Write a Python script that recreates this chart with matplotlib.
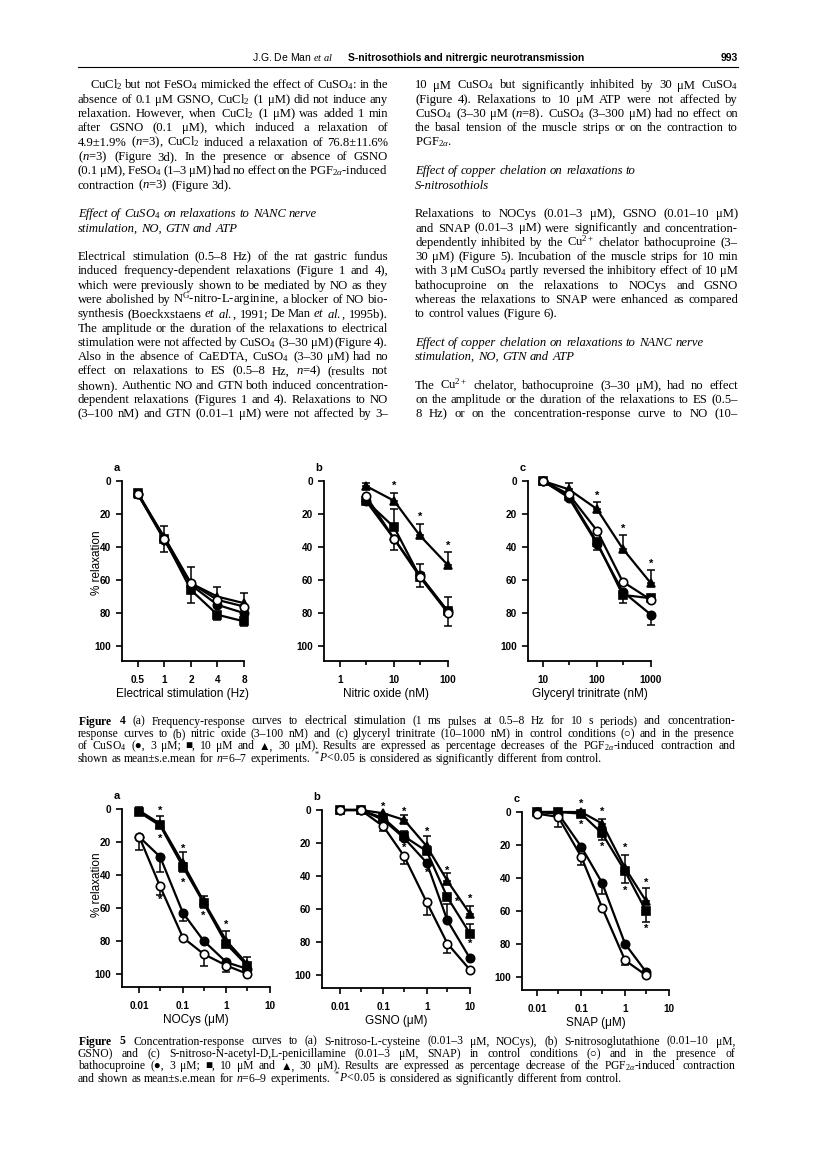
"""Journal page p.993 (De Man et al): two columns of text, Figure 4 and Figure 5."""
import matplotlib
matplotlib.use("Agg")
import matplotlib.font_manager as fm
import matplotlib.pyplot as plt

W, H = 816, 1157
SERIF = "Liberation Serif"
_names = {f.name for f in fm.fontManager.ttflist}
NARROW = "Liberation Sans Narrow" if "Liberation Sans Narrow" in _names else "Liberation Sans"
SANS = "Liberation Sans"

plt.rcParams["mathtext.fontset"] = "custom"
plt.rcParams["mathtext.rm"] = SERIF
plt.rcParams["mathtext.it"] = SERIF + ":italic"
plt.rcParams["mathtext.bf"] = SERIF + ":bold"

# --- Figure 4 data (% relaxation, signed s.e.m.: + drawn downwards, - upwards)
ES_HZ = [0.5, 1, 2, 4, 8]
ES_CTRL = [8, 35, 62, 72, 76]
ES_CU3 = [8, 36, 63, 75, 80]
ES_CU10 = [7, 35, 66, 81, 85]
ES_CU30 = [8, 34, 62, 70, 74]
ES_ERR_CTRL = [0, -8, -10, -8, -8]
ES_ERR_CU10 = [3, 8, 8, 3, 3]

NO_NM = [3, 10, 30, 100]
NO_CTRL = [9, 35, 58, 80]
NO_CU3 = [12, 35, 57, 79]
NO_CU10 = [12, 28, 58, 79]
NO_CU30 = [3, 12, 33, 51]
NO_ERR_CU3 = [0, 7, 7, 9]
NO_ERR_CU10 = [0, -11, -8, -9]
NO_ERR_CU30 = [-2, -5, -7, -8]
NO_STARS = [(10, 3), (30, 22), (100, 39)]

GTN_NM = [10, 30, 100, 300, 1000]
GTN_CTRL = [0, 8, 30, 61, 72]
GTN_CU3 = [0, 10, 38, 67, 81]
GTN_CU10 = [0, 9, 37, 69, 71]
GTN_CU30 = [0, 5, 17, 41, 62]
GTN_ERR_CU3 = [0, 0, 4, 0, 6]
GTN_ERR_CU10 = [0, 0, 0, 5, 0]
GTN_ERR_CU30 = [0, -4, -4, -8, -8]
GTN_STARS = [(100, 9), (300, 29), (1000, 50)]

# --- Figure 5 data (bathocuproine 3/10/30 uM)
NOCYS_UM = [0.01, 0.03, 0.1, 0.3, 1, 3]
NOCYS_CTRL = [17, 47, 78, 88, 95, 100]
NOCYS_B3 = [17, 29, 63, 80, 93, 97]
NOCYS_B10 = [2, 10, 35, 57, 82, 95]
NOCYS_B30 = [1, 9, 33, 56, 80, 94]
NOCYS_ERR_CTRL = [0, 5, 0, 7, 4, 0]
NOCYS_ERR_B3 = [8, 9, 5, 0, 0, 0]
NOCYS_ERR_B10 = [-3, -6, -9, -4, -8, -5]
NOCYS_ERR_B30 = [0, 0, 5, 4, 0, 0]
NOCYS_STARS = [(0.03, 1), (0.03, 18), (0.03, 55), (0.1, 24), (0.1, 45), (0.3, 65), (1, 70)]

GSNO_UM = [0.01, 0.03, 0.1, 0.3, 1, 3, 10]
GSNO_CTRL = [0, 0, 10, 28, 56, 81, 97]
GSNO_B3 = [0, 0, 6, 17, 32, 67, 90]
GSNO_B10 = [0, 0, 5, 16, 25, 53, 75]
GSNO_B30 = [0, 0, 2, 6, 22, 43, 63]
GSNO_ERR_CTRL = [0, 0, 3, 5, 8, 6, 0]
GSNO_ERR_B3 = [0, 0, 0, 0, 0, -10, 0]
GSNO_ERR_B10 = [0, 0, 0, -3, 0, 0, -6]
GSNO_ERR_B30 = [0, 0, 0, -3, -6, -5, -5]
GSNO_STARS = [(0.1, -2), (0.3, 1), (0.3, 23), (1, 13), (1, 38), (3, 37), (5, 56), (10, 54), (10, 81)]

SNAP_UM = [0.01, 0.03, 0.1, 0.3, 1, 3]
SNAP_CTRL = [1, 3, 27, 58, 90, 99]
SNAP_B3 = [0, 1, 21, 43, 80, 97]
SNAP_B10 = [0, 0, 1, 13, 36, 60]
SNAP_B30 = [0, 0, 0, 7, 34, 54]
SNAP_ERR_CTRL = [0, 6, 5, 0, 3, 0]
SNAP_ERR_B3 = [0, 0, 0, 7, 0, 0]
SNAP_ERR_B10 = [0, 0, 0, 4, 7, 7]
SNAP_ERR_B30 = [0, 0, 0, -3, -8, -8]
SNAP_STARS = [(0.1, -5), (0.1, 8), (0.3, 0), (0.3, 21), (1, 22), (1, 48), (3, 43), (3, 71)]

Y_TICKS = [0, 20, 40, 60, 80, 100]

# --- Page text
LEFT_COL = [
    (r"CuCl$_2$ but not FeSO$_4$ mimicked the effect of CuSO$_4$: in the", "i"),
    (r"absence of 0.1 μM GSNO, CuCl$_2$ (1 μM) did not induce any", "j"),
    (r"relaxation. However, when CuCl$_2$ (1 μM) was added 1 min", "j"),
    (r"after GSNO (0.1 μM), which induced a relaxation of", "j"),
    (r"4.9±1.9% ($\mathit{n}$=3), CuCl$_2$ induced a relaxation of 76.8±11.6%", "j"),
    (r"($\mathit{n}$=3) (Figure 3d). In the presence or absence of GSNO", "j"),
    (r"(0.1 μM), FeSO$_4$ (1–3 μM) had no effect on the PGF$_{2\alpha}$-induced", "j"),
    (r"contraction ($\mathit{n}$=3) (Figure 3d).", "l"),
    ("", ""),
    (r"Effect of CuSO$_4$ on relaxations to NANC nerve", "h"),
    ("stimulation, NO, GTN and ATP", "h"),
    ("", ""),
    ("Electrical stimulation (0.5–8 Hz) of the rat gastric fundus", "j"),
    ("induced frequency-dependent relaxations (Figure 1 and 4),", "j"),
    ("which were previously shown to be mediated by NO as they", "j"),
    (r"were abolished by N$^{\mathrm{G}}$-nitro-L-arginine, a blocker of NO bio-", "j"),
    (r"synthesis (Boeckxstaens $\mathit{et}$ $\mathit{al.}$, 1991; De Man $\mathit{et}$ $\mathit{al.}$, 1995b).", "j"),
    ("The amplitude or the duration of the relaxations to electrical", "j"),
    (r"stimulation were not affected by CuSO$_4$ (3–30 μM) (Figure 4).", "j"),
    (r"Also in the absence of CaEDTA, CuSO$_4$ (3–30 μM) had no", "j"),
    (r"effect on relaxations to ES (0.5–8 Hz, $\mathit{n}$=4) (results not", "j"),
    ("shown). Authentic NO and GTN both induced concentration-", "j"),
    ("dependent relaxations (Figures 1 and 4). Relaxations to NO", "j"),
    ("(3–100 nM) and GTN (0.01–1 μM) were not affected by 3–", "j"),
]
RIGHT_COL = [
    (r"10 μM CuSO$_4$ but significantly inhibited by 30 μM CuSO$_4$", "j"),
    ("(Figure 4). Relaxations to 10 μM ATP were not affected by", "j"),
    (r"CuSO$_4$ (3–30 μM ($\mathit{n}$=8). CuSO$_4$ (3–300 μM) had no effect on", "j"),
    ("the basal tension of the muscle strips or on the contraction to", "j"),
    (r"PGF$_{2\alpha}$.", "l"),
    ("", ""),
    ("Effect of copper chelation on relaxations to", "h"),
    ("S-nitrosothiols", "h"),
    ("", ""),
    ("Relaxations to NOCys (0.01–3 μM), GSNO (0.01–10 μM)", "j"),
    ("and SNAP (0.01–3 μM) were significantly and concentration-", "j"),
    (r"dependently inhibited by the Cu$^{2+}$ chelator bathocuproine (3–", "j"),
    ("30 μM) (Figure 5). Incubation of the muscle strips for 10 min", "j"),
    (r"with 3 μM CuSO$_4$ partly reversed the inhibitory effect of 10 μM", "j"),
    ("bathocuproine on the relaxations to NOCys and GSNO", "j"),
    ("whereas the relaxations to SNAP were enhanced as compared", "j"),
    ("to control values (Figure 6).", "l"),
    ("", ""),
    ("Effect of copper chelation on relaxations to NANC nerve", "h"),
    ("stimulation, NO, GTN and ATP", "h"),
    ("", ""),
    (r"The Cu$^{2+}$ chelator, bathocuproine (3–30 μM), had no effect", "j"),
    ("on the amplitude or the duration of the relaxations to ES (0.5–", "j"),
    ("8 Hz) or on the concentration-response curve to NO (10–", "j"),
]
CAPTION_4 = [
    r"$\mathbf{Figure}$ $\mathbf{4}$  (a) Frequency-response curves to electrical stimulation (1 ms pulses at 0.5–8 Hz for 10 s periods) and concentration-",
    "response curves to (b) nitric oxide (3–100 nM) and (c) glyceryl trinitrate (10–1000 nM) in control conditions (○) and in the presence",
    r"of CuSO$_4$ (●, 3 μM; ■, 10 μM and ▲, 30 μM). Results are expressed as percentage decreases of the PGF$_{2\alpha}$-induced contraction and",
    r"shown as mean±s.e.mean for $\mathit{n}$=6–7 experiments. $^*\mathit{P}$<0.05 is considered as significantly different from control.",
]
CAPTION_5 = [
    r"$\mathbf{Figure}$ $\mathbf{5}$  Concentration-response curves to (a) S-nitroso-L-cysteine (0.01–3 μM, NOCys), (b) S-nitrosoglutathione (0.01–10 μM,",
    "GSNO) and (c) S-nitroso-N-acetyl-D,L-penicillamine (0.01–3 μM, SNAP) in control conditions (○) and in the presence of",
    r"bathocuproine (●, 3 μM; ■, 10 μM and ▲, 30 μM). Results are expressed as percentage decrease of the PGF$_{2\alpha}$-induced contraction",
    r"and shown as mean±s.e.mean for $\mathit{n}$=6–9 experiments. $^*\mathit{P}$<0.05 is considered as significantly different from control.",
]

fig = plt.figure(figsize=(W / 100, H / 100), dpi=100)
renderer = fig.canvas.get_renderer()


def set_line(x0, x1, y, line, size, justify=True, style="normal"):
    """Place one typeset line word by word; justified lines fill x0..x1 (pixels)."""
    words = line.split()
    arts = [fig.text(0, 1 - y / H, w, fontsize=size, family=[SERIF, "DejaVu Sans"],
                     style=style, va="baseline") for w in words]
    widths = [a.get_window_extent(renderer).width for a in arts]
    gap = size * 0.26 * 100 / 72
    if justify and len(words) > 1:
        gap = max((x1 - x0 - sum(widths)) / (len(words) - 1), 1.0)
    x = x0
    for a, w in zip(arts, widths):
        a.set_x(x / W)
        x += w + gap


def set_column(x0, x1, lines, y0, step):
    for i, (line, kind) in enumerate(lines):
        if not line:
            continue
        y = y0 + i * step
        if kind == "i":
            set_line(x0 + 12, x1, y, line, 9.1)
        elif kind == "h":
            set_line(x0, x1, y, line, 9.1, justify=False, style="italic")
        else:
            set_line(x0, x1, y, line, 9.1, justify=(kind == "j"))


def set_caption(lines, y0, step):
    for i, line in enumerate(lines):
        set_line(78, 735, y0 + i * step, line, 8.4, justify=i < len(lines) - 1)


# header
fig.text(333 / W, 1 - 61 / H, "J.G. De Man $\\mathit{et\\ al}$", family=NARROW, fontsize=7.5,
         ha="right", va="baseline")
fig.text(348 / W, 1 - 61 / H, "S-nitrosothiols and nitrergic neurotransmission",
         family=NARROW, fontsize=7.5, weight="bold", va="baseline")
fig.text(738 / W, 1 - 61 / H, "993", family=NARROW, fontsize=7.5, weight="bold",
         ha="right", va="baseline")
fig.add_artist(plt.Line2D([78 / W, 738 / W], [1 - 67 / H, 1 - 67 / H], color="black", lw=0.8))

set_column(78, 388, LEFT_COL, 88.5, 14.3)
set_column(415, 738, RIGHT_COL, 88.5, 14.3)
set_caption(CAPTION_4, 724.5, 12.4)
set_caption(CAPTION_5, 1044.5, 12.4)


def panel(left, right, top, bottom, ybot, log_base, xlim, majors, major_labels, minors,
          series, stars, letter, xlabel, ylabel_y=None):
    ax = fig.add_axes([left / W, 1 - bottom / H, (right - left) / W, (bottom - top) / H])
    ax.set_xscale("log", base=log_base)
    ax.set_xlim(*xlim)
    ax.set_ylim(ybot, 0)
    for s in ("top", "right"):
        ax.spines[s].set_visible(False)
    for s in ("left", "bottom"):
        ax.spines[s].set_linewidth(1.3)
    ax.set_xticks(majors, labels=major_labels, fontweight="bold", family=SANS)
    ax.set_xticks(minors, labels=[""] * len(minors), minor=True)
    ax.set_yticks(Y_TICKS, labels=[str(v) for v in Y_TICKS], fontweight="bold", family=SANS)
    ax.tick_params(which="major", direction="out", length=4, width=1.2, labelsize=7.2, pad=4)
    ax.tick_params(which="minor", direction="out", length=3, width=1.2)
    ax.tick_params(axis="x", pad=6)
    ax.patch.set_visible(False)
    for x, y, err, marker, face in series:
        ax.plot(x, y, color="black", lw=1.6, marker=marker, ms=6, mfc=face,
                mec="black", mew=1.2, clip_on=False, zorder=3)
        ex = [xi for xi, e in zip(x, err) if e]
        ey = [yi for yi, e in zip(y, err) if e]
        lo = [-e if e < 0 else 0 for e in err if e]
        hi = [e if e > 0 else 0 for e in err if e]
        if ex:
            ax.errorbar(ex, ey, yerr=[lo, hi], fmt="none", ecolor="black", elinewidth=1.1,
                        capsize=3.2, capthick=1.1, clip_on=False, zorder=2)
    for x, y in stars:
        ax.text(x, y, "*", ha="center", va="center", fontsize=8, family=SANS,
                fontweight="bold", clip_on=False)
    ax.set_xlabel(xlabel, family=SANS, fontsize=8.5, labelpad=2)
    fig.text((left - 5) / W, 1 - (top - 13) / H, letter, family=SANS, fontsize=8,
             fontweight="bold", ha="center", va="center")
    if ylabel_y:
        fig.text(97 / W, 1 - ylabel_y / H, "% relaxation", family=SANS, fontsize=8.5,
                 rotation=90, ha="center", va="center")
    return ax


# Figure 4 -----------------------------------------------------------------
panel(122, 244, 481, 661, 109, 2, (0.33, 8), ES_HZ, ["0.5", "1", "2", "4", "8"], [],
      [(ES_HZ, ES_CU30, [0] * 5, "^", "black"),
       (ES_HZ, ES_CU10, ES_ERR_CU10, "s", "black"),
       (ES_HZ, ES_CU3, [0] * 5, "o", "black"),
       (ES_HZ, ES_CTRL, ES_ERR_CTRL, "o", "white")],
      [], "a", "Electrical stimulation (Hz)", ylabel_y=563)
panel(324, 448, 481, 661, 109, 10, (0.5, 100), [1, 10, 100], ["1", "10", "100"], [3, 30],
      [(NO_NM, NO_CU30, NO_ERR_CU30, "^", "black"),
       (NO_NM, NO_CU10, NO_ERR_CU10, "s", "black"),
       (NO_NM, NO_CU3, NO_ERR_CU3, "o", "black"),
       (NO_NM, NO_CTRL, [0] * 4, "o", "white")],
      NO_STARS, "b", "Nitric oxide (nM)")
panel(528, 651, 481, 661, 109, 10, (5.3, 1000), [10, 100, 1000], ["10", "100", "1000"],
      [30, 300],
      [(GTN_NM, GTN_CU30, GTN_ERR_CU30, "^", "black"),
       (GTN_NM, GTN_CU10, GTN_ERR_CU10, "s", "black"),
       (GTN_NM, GTN_CU3, GTN_ERR_CU3, "o", "black"),
       (GTN_NM, GTN_CTRL, [0] * 5, "o", "white")],
      GTN_STARS, "c", "Glyceryl trinitrate (nM)")

# Figure 5 -----------------------------------------------------------------
DEC = [0.01, 0.1, 1, 10]
DEC_LABELS = ["0.01", "0.1", "1", "10"]
HALF = [0.03, 0.3, 3]
panel(122, 270, 809, 987, 108, 10, (0.004, 10), DEC, DEC_LABELS, HALF,
      [(NOCYS_UM, NOCYS_B30, NOCYS_ERR_B30, "^", "black"),
       (NOCYS_UM, NOCYS_B10, NOCYS_ERR_B10, "s", "black"),
       (NOCYS_UM, NOCYS_B3, NOCYS_ERR_B3, "o", "black"),
       (NOCYS_UM, NOCYS_CTRL, NOCYS_ERR_CTRL, "o", "white")],
      NOCYS_STARS, "a", "NOCys (μM)", ylabel_y=885)
panel(322, 470, 810, 988, 108, 10, (0.0038, 10), DEC, DEC_LABELS, HALF,
      [(GSNO_UM, GSNO_B30, GSNO_ERR_B30, "^", "black"),
       (GSNO_UM, GSNO_B10, GSNO_ERR_B10, "s", "black"),
       (GSNO_UM, GSNO_B3, GSNO_ERR_B3, "o", "black"),
       (GSNO_UM, GSNO_CTRL, GSNO_ERR_CTRL, "o", "white")],
      GSNO_STARS, "b", "GSNO (μM)")
panel(522, 669, 812, 990, 108, 10, (0.0045, 10), DEC, DEC_LABELS, HALF,
      [(SNAP_UM, SNAP_B30, SNAP_ERR_B30, "^", "black"),
       (SNAP_UM, SNAP_B10, SNAP_ERR_B10, "s", "black"),
       (SNAP_UM, SNAP_B3, SNAP_ERR_B3, "o", "black"),
       (SNAP_UM, SNAP_CTRL, SNAP_ERR_CTRL, "o", "white")],
      SNAP_STARS, "c", "SNAP (μM)")

fig.savefig("out.png", dpi=100)
